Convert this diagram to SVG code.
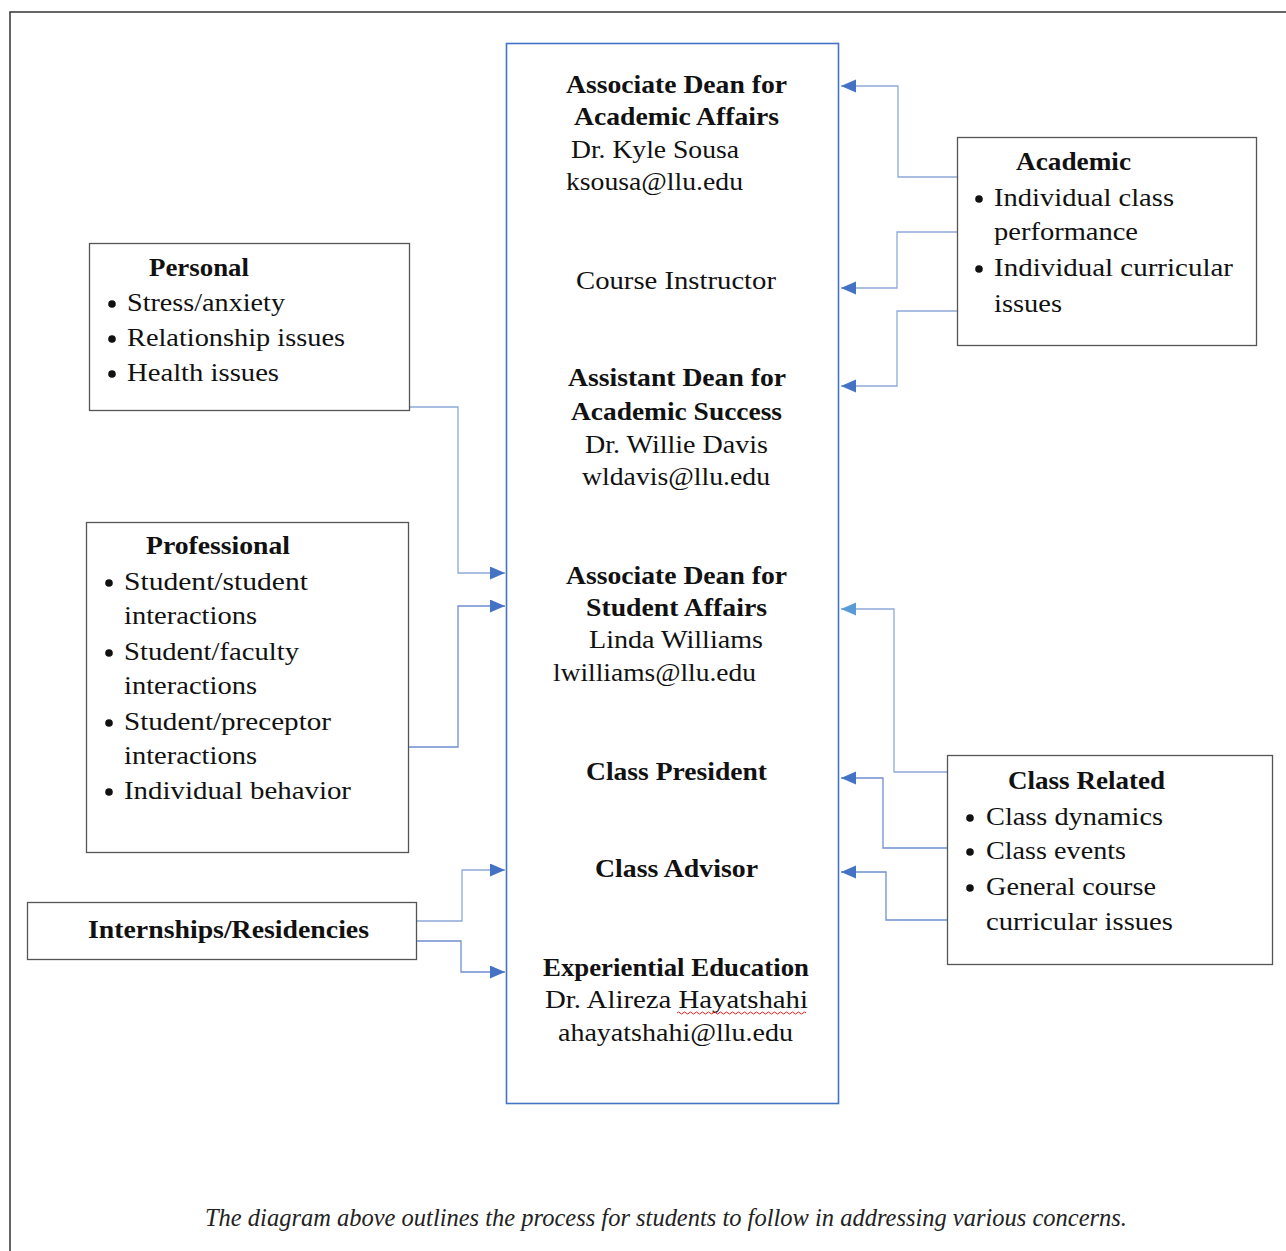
<svg xmlns="http://www.w3.org/2000/svg" width="1286" height="1251" viewBox="0 0 1286 1251">
<defs>
<style>
.t{font-family:"Liberation Serif","Times New Roman",serif;font-size:26px;fill:#111}
.b{font-weight:bold}
.m{text-anchor:middle}
.box{fill:#fff;stroke:#555;stroke-width:1.3}
.c{fill:none;stroke:#8EA9DB;stroke-width:1.3}
.cd{fill:none;stroke:#6F8FD0;stroke-width:1.3}
.cap{font-family:"Liberation Serif","Times New Roman",serif;font-style:italic;font-size:25px;fill:#222}
</style>
<marker id="ah" markerUnits="userSpaceOnUse" markerWidth="16" markerHeight="14" refX="15" refY="6.5" orient="auto">
<path d="M0,0 L15,6.5 L0,13 z" fill="#4472C4"/>
</marker>
<marker id="ahl" markerUnits="userSpaceOnUse" markerWidth="16" markerHeight="14" refX="15" refY="6.5" orient="auto">
<path d="M0,0 L15,6.5 L0,13 z" fill="#5B9BD5"/>
</marker>
</defs>
<rect width="1286" height="1251" fill="#fff"/>
<path d="M10,1251 V12 H1286" fill="none" stroke="#333" stroke-width="1.5"/>

<g id="connectors">
<path class="c" d="M957,177 H898 V86 H841" marker-end="url(#ah)"/>
<path class="c" d="M957,232 H897 V288 H841" marker-end="url(#ah)"/>
<path class="c" d="M957,311 H897 V386 H841" marker-end="url(#ah)"/>
<path class="c" d="M410,407 H458 V573 H505" marker-end="url(#ah)"/>
<path class="cd" d="M409,747 H458 V606 H505" marker-end="url(#ah)"/>
<path class="c" d="M417,921 H462 V870 H505" marker-end="url(#ah)"/>
<path class="cd" d="M417,941 H461 V972 H505" marker-end="url(#ah)"/>
<path class="c" d="M947,772 H894 V609 H841" marker-end="url(#ahl)"/>
<path class="cd" d="M947,848 H883 V778 H841" marker-end="url(#ah)"/>
<path class="cd" d="M947,920 H886 V872 H841" marker-end="url(#ah)"/>
</g>

<g id="center">
<rect x="506.5" y="43.5" width="332" height="1060" fill="none" stroke="#4472C4" stroke-width="1.6"/>
<text class="t b m" x="676.5" y="93" textLength="221" lengthAdjust="spacingAndGlyphs">Associate Dean for</text>
<text class="t b m" x="676.5" y="125" textLength="205" lengthAdjust="spacingAndGlyphs">Academic Affairs</text>
<text class="t m" x="655" y="158" textLength="168" lengthAdjust="spacingAndGlyphs">Dr. Kyle Sousa</text>
<text class="t m" x="654.5" y="190" textLength="177" lengthAdjust="spacingAndGlyphs">ksousa@llu.edu</text>
<text class="t m" x="676" y="289" textLength="200" lengthAdjust="spacingAndGlyphs">Course Instructor</text>
<text class="t b m" x="677" y="386" textLength="218" lengthAdjust="spacingAndGlyphs">Assistant Dean for</text>
<text class="t b m" x="676.5" y="420" textLength="211" lengthAdjust="spacingAndGlyphs">Academic Success</text>
<text class="t m" x="676.5" y="453" textLength="183" lengthAdjust="spacingAndGlyphs">Dr. Willie Davis</text>
<text class="t m" x="676" y="485" textLength="188" lengthAdjust="spacingAndGlyphs">wldavis@llu.edu</text>
<text class="t b m" x="676.5" y="584" textLength="221" lengthAdjust="spacingAndGlyphs">Associate Dean for</text>
<text class="t b m" x="676.5" y="616" textLength="181" lengthAdjust="spacingAndGlyphs">Student Affairs</text>
<text class="t m" x="676" y="648" textLength="174" lengthAdjust="spacingAndGlyphs">Linda Williams</text>
<text class="t m" x="654.5" y="681" textLength="203" lengthAdjust="spacingAndGlyphs">lwilliams@llu.edu</text>
<text class="t b m" x="676.5" y="780" textLength="181" lengthAdjust="spacingAndGlyphs">Class President</text>
<text class="t b m" x="676.5" y="877" textLength="163" lengthAdjust="spacingAndGlyphs">Class Advisor</text>
<text class="t b m" x="676" y="976" textLength="266" lengthAdjust="spacingAndGlyphs">Experiential Education</text>
<text class="t m" x="676.5" y="1008" textLength="263" lengthAdjust="spacingAndGlyphs">Dr. Alireza Hayatshahi</text>
<path d="M677,1013 q1.5,-2 3,0 t3,0 t3,0 t3,0 t3,0 t3,0 t3,0 t3,0 t3,0 t3,0 t3,0 t3,0 t3,0 t3,0 t3,0 t3,0 t3,0 t3,0 t3,0 t3,0 t3,0 t3,0 t3,0 t3,0 t3,0 t3,0 t3,0 t3,0 t3,0 t3,0 t3,0 t3,0 t3,0 t3,0 t3,0 t3,0 t3,0 t3,0 t3,0 t3,0 t3,0 t3,0 t3,0" fill="none" stroke="#e02020" stroke-width="1"/>
<text class="t m" x="675.5" y="1041" textLength="235" lengthAdjust="spacingAndGlyphs">ahayatshahi@llu.edu</text>
</g>

<g id="academic">
<rect class="box" x="957.5" y="137.5" width="299" height="208"/>
<text class="t b" x="1016" y="170" textLength="115" lengthAdjust="spacingAndGlyphs">Academic</text>
<circle cx="979" cy="199" r="3.8" fill="#111"/>
<text class="t" x="994" y="206" textLength="180" lengthAdjust="spacingAndGlyphs">Individual class</text>
<text class="t" x="994" y="240" textLength="144" lengthAdjust="spacingAndGlyphs">performance</text>
<circle cx="979" cy="269" r="3.8" fill="#111"/>
<text class="t" x="994" y="276" textLength="239" lengthAdjust="spacingAndGlyphs">Individual curricular</text>
<text class="t" x="994" y="312" textLength="68" lengthAdjust="spacingAndGlyphs">issues</text>
</g>

<g id="personal">
<rect class="box" x="89.5" y="243.5" width="320" height="167"/>
<text class="t b" x="149" y="276" textLength="100" lengthAdjust="spacingAndGlyphs">Personal</text>
<circle cx="112" cy="304" r="3.8" fill="#111"/>
<text class="t" x="127" y="311" textLength="158" lengthAdjust="spacingAndGlyphs">Stress/anxiety</text>
<circle cx="112" cy="339" r="3.8" fill="#111"/>
<text class="t" x="127" y="346" textLength="218" lengthAdjust="spacingAndGlyphs">Relationship issues</text>
<circle cx="112" cy="374" r="3.8" fill="#111"/>
<text class="t" x="127" y="381" textLength="152" lengthAdjust="spacingAndGlyphs">Health issues</text>
</g>

<g id="professional">
<rect class="box" x="86.5" y="522.5" width="322" height="330"/>
<text class="t b" x="146" y="554" textLength="144" lengthAdjust="spacingAndGlyphs">Professional</text>
<circle cx="109" cy="583" r="3.8" fill="#111"/>
<text class="t" x="124" y="590" textLength="184" lengthAdjust="spacingAndGlyphs">Student/student</text>
<text class="t" x="124" y="624" textLength="133" lengthAdjust="spacingAndGlyphs">interactions</text>
<circle cx="109" cy="653" r="3.8" fill="#111"/>
<text class="t" x="124" y="660" textLength="175" lengthAdjust="spacingAndGlyphs">Student/faculty</text>
<text class="t" x="124" y="694" textLength="133" lengthAdjust="spacingAndGlyphs">interactions</text>
<circle cx="109" cy="723" r="3.8" fill="#111"/>
<text class="t" x="124" y="730" textLength="207" lengthAdjust="spacingAndGlyphs">Student/preceptor</text>
<text class="t" x="124" y="764" textLength="133" lengthAdjust="spacingAndGlyphs">interactions</text>
<circle cx="109" cy="792" r="3.8" fill="#111"/>
<text class="t" x="124" y="799" textLength="227" lengthAdjust="spacingAndGlyphs">Individual behavior</text>
</g>

<g id="internships">
<rect class="box" x="27.5" y="902.5" width="389" height="57"/>
<text class="t b" x="88" y="938" textLength="281" lengthAdjust="spacingAndGlyphs">Internships/Residencies</text>
</g>

<g id="classrelated">
<rect class="box" x="947.5" y="755.5" width="325" height="209"/>
<text class="t b" x="1008" y="789" textLength="157" lengthAdjust="spacingAndGlyphs">Class Related</text>
<circle cx="970" cy="818" r="3.8" fill="#111"/>
<text class="t" x="986" y="825" textLength="177" lengthAdjust="spacingAndGlyphs">Class dynamics</text>
<circle cx="970" cy="852" r="3.8" fill="#111"/>
<text class="t" x="986" y="859" textLength="140" lengthAdjust="spacingAndGlyphs">Class events</text>
<circle cx="970" cy="888" r="3.8" fill="#111"/>
<text class="t" x="986" y="895" textLength="170" lengthAdjust="spacingAndGlyphs">General course</text>
<text class="t" x="986" y="930" textLength="187" lengthAdjust="spacingAndGlyphs">curricular issues</text>
</g>

<text class="cap" x="205" y="1226" textLength="922" lengthAdjust="spacingAndGlyphs">The diagram above outlines the process for students to follow in addressing various concerns.</text>
</svg>
